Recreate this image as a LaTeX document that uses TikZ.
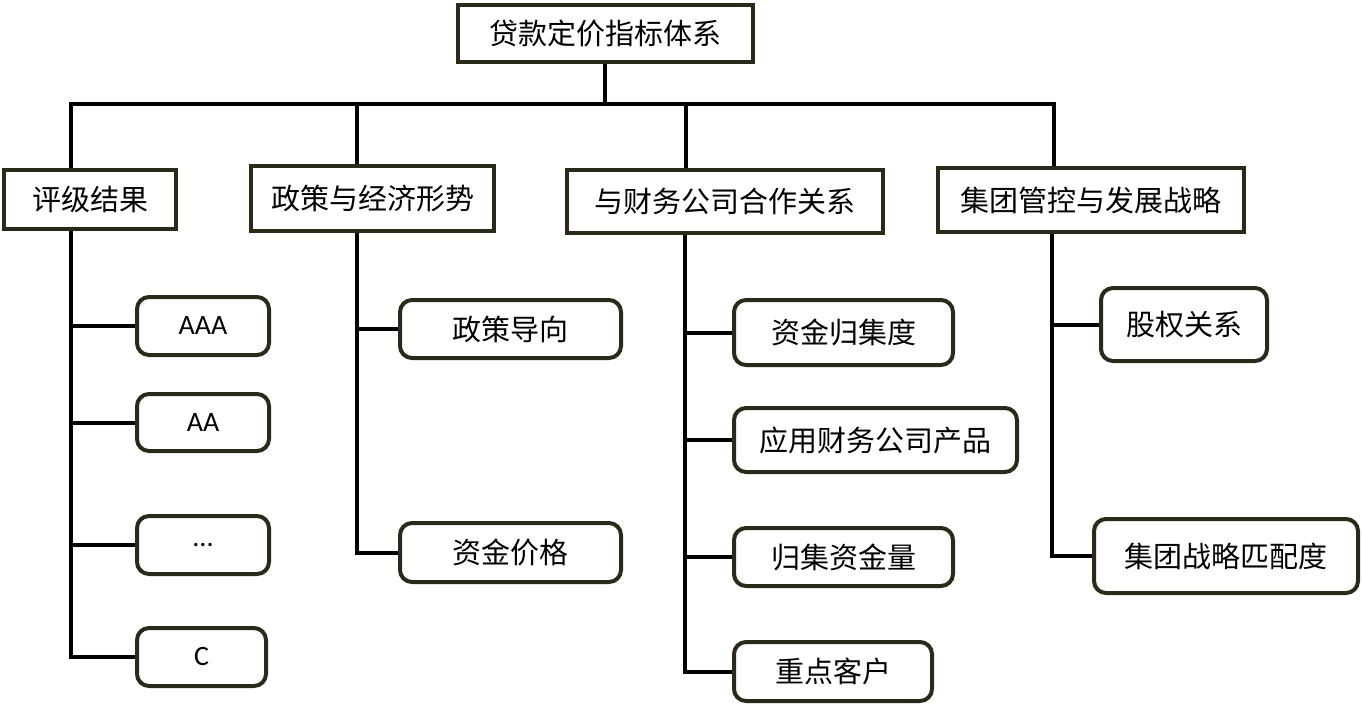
\documentclass[tikz,border=0pt]{standalone}
\usepackage{fontspec}
\setmainfont{Carlito}
\newfontfamily\cjkfont{Noto Sans CJK SC}
\usepackage{tikz}
\usetikzlibrary{calc}
\definecolor{boxline}{HTML}{2B2A1A}
\tikzset{
	treenode/.style = {
		align=center,
		inner sep=0pt,
		text centered,
		font=\cjkfont\fontsize{29}{31}\selectfont,
		draw=boxline,
		line width=4pt
	},
	node_top/.style = {
		treenode,
		rectangle
	},
	node_l1/.style = {
		treenode,
		rectangle
	},
	node_l2/.style = {
		treenode,
		rectangle,
		rounded corners=12pt
	},
	node_abc/.style = {
		node_l2,
		font=\fontsize{28}{30}\selectfont
	},
	edge_line/.style = {
		draw=black,
		line width=4pt
	}
}

\begin{document}
\begin{tikzpicture}[x=1pt,y=-1pt]
\useasboundingbox (0,0) rectangle (1363,704);
% top
\node [node_top, minimum width=295pt, minimum height=57pt] (root) at (605,33) {贷款定价指标体系};
\coordinate (bus) at (605,104);
% level 1
\node [node_l1, minimum width=172pt, minimum height=59pt] (rating) at (90,199.5) {评级结果};
\node [node_l1, minimum width=243pt, minimum height=65pt] (policy) at (372.5,198.5) {政策与经济形势};
\node [node_l1, minimum width=316pt, minimum height=63pt] (coop) at (725,201.5) {与财务公司合作关系};
\node [node_l1, minimum width=306pt, minimum height=64pt] (group) at (1091,200) {集团管控与发展战略};
% level 2
\node [node_abc, minimum width=132pt, minimum height=58pt] (aaa) at (203,326) {AAA};
\node [node_abc, minimum width=132pt, minimum height=57pt] (aa) at (203,422.5) {AA};
\node [node_abc, minimum width=132pt, minimum height=58pt] (dots) at (203,545) {...};
\node [node_abc, minimum width=129pt, minimum height=58pt] (c) at (201.5,657) {C};
\node [node_l2, minimum width=221pt, minimum height=58pt] (guide) at (510.5,329) {政策导向};
\node [node_l2, minimum width=221pt, minimum height=59pt] (price) at (510.5,552.5) {资金价格};
\node [node_l2, minimum width=219pt, minimum height=65pt] (gather) at (843.5,332.5) {资金归集度};
\node [node_l2, minimum width=283pt, minimum height=64pt] (product) at (875.5,440) {应用财务公司产品};
\node [node_l2, minimum width=219pt, minimum height=58pt] (volume) at (843.5,557) {归集资金量};
\node [node_l2, minimum width=198pt, minimum height=59pt] (client) at (833,671.5) {重点客户};
\node [node_l2, minimum width=166pt, minimum height=73pt] (equity) at (1184,324.5) {股权关系};
\node [node_l2, minimum width=264pt, minimum height=74pt] (match) at (1226,556) {集团战略匹配度};

% connectors
\draw [edge_line] (root.south) -- (bus);
\foreach \n/\s in {rating/69pt, policy/108pt, coop/121pt, group/118pt}
	\draw [edge_line] ([xshift=\s]\n.north west) |- (bus);
\foreach \n/\s/\kids in {rating/69pt/{aaa,aa,dots,c}, policy/108pt/{guide,price},
		coop/120pt/{gather,product,volume,client}, group/116pt/{equity,match}}
	\foreach \k in \kids
		\draw [edge_line] ([xshift=\s]\n.south west) |- (\k.west);
\end{tikzpicture}
\end{document}
